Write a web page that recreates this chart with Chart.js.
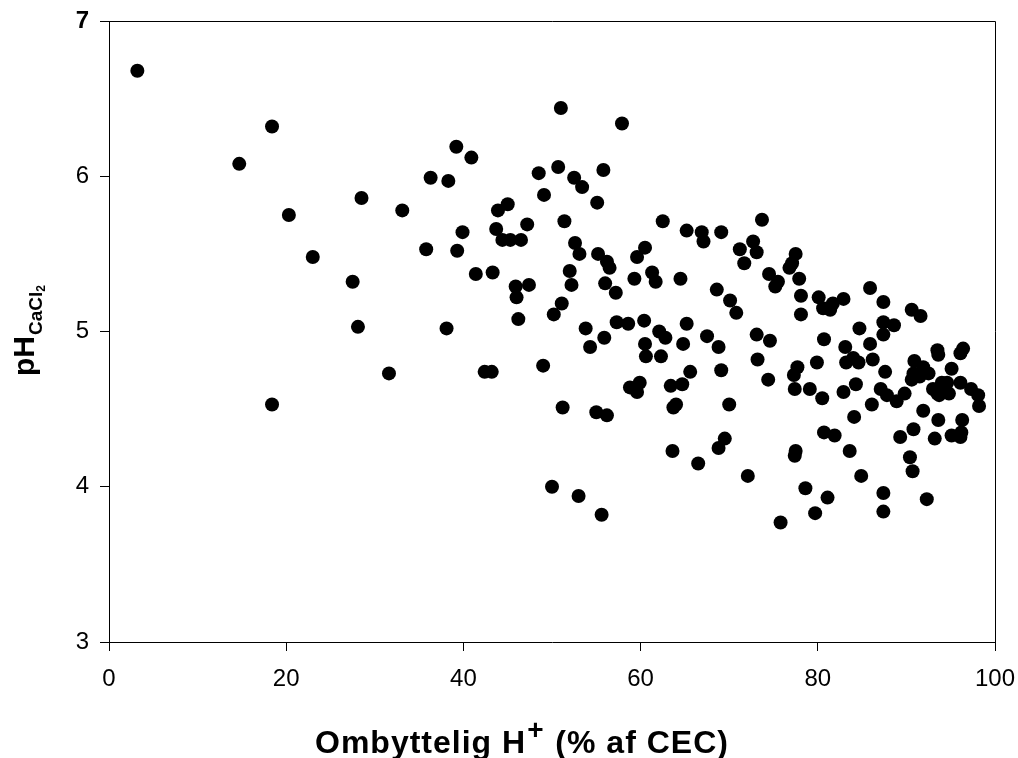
<!DOCTYPE html>
<html>
<head>
<meta charset="utf-8">
<script src="https://cdn.jsdelivr.net/npm/chart.js@4/dist/chart.umd.min.js"></script>
<style>
html,body{margin:0;padding:0;background:#fff;}
#wrap{width:1018px;height:758px;}
</style>
</head>
<body>
<div id="wrap"><canvas id="c" width="1018" height="758"></canvas></div>
<script>
// Exchangeable H+ (% of CEC)
const hPercent = [
 3.2,18.4,14.7,28.5,20.3,23.0,27.5,28.1,31.6,18.4,
 51.0,57.9,39.2,40.9,36.3,38.3,48.5,50.7,55.8,52.5,53.4,49.1,55.1,33.1,45.0,43.9,51.4,62.5,65.2,43.7,
 47.2,39.9,44.4,45.3,46.5,35.8,39.3,52.6,53.1,55.2,56.2,56.5,60.5,59.6,41.4,43.3,52.0,52.2,45.9,47.4,
 46.0,56.0,57.2,59.3,61.3,61.7,64.5,51.1,50.2,46.2,38.1,53.8,57.3,58.6,60.4,65.2,55.9,62.1,62.8,
 54.3,60.5,64.8,60.6,62.3,42.4,43.2,49.0,65.6,58.8,59.9,59.6,63.4,64.7,63.7,64.0,51.2,55.0,56.2,63.6,66.5,50.0,53.0,55.6,
 73.7,66.9,67.1,69.1,71.2,72.7,73.1,71.7,77.5,77.1,76.8,74.5,75.5,75.2,77.9,68.6,70.1,70.8,78.1,78.1,
 80.1,80.6,81.4,81.7,82.9,85.9,87.4,90.6,91.6,84.7,87.4,88.6,87.4,67.5,73.1,74.6,80.7,
 68.8,83.1,85.9,69.1,73.2,74.4,70.0,69.5,68.8,72.1,75.8,77.7,77.3,77.4,77.5,77.4,79.9,79.1,80.5,78.6,81.1,79.7,
 80.7,81.9,83.6,84.9,82.9,84.3,83.2,84.0,84.6,86.2,86.1,84.1,87.6,87.1,87.8,88.9,89.8,87.4,87.4,89.3,90.8,90.4,90.7,92.3,
 90.9,91.9,90.8,90.6,91.5,92.5,91.9,93.5,93.6,95.1,93.6,93.2,93.0,93.5,94.0,94.6,94.8,94.3,93.7,96.1,96.4,96.1,97.3,98.1,98.2,96.3,95.1,96.1,96.2
];
// pH (CaCl2)
const phCaCl2 = [
 6.68,6.32,6.08,5.86,5.75,5.48,5.32,5.03,4.73,4.53,
 6.44,6.34,6.19,6.12,5.99,5.97,6.02,6.06,6.04,5.99,5.93,5.88,5.83,5.78,5.82,5.78,5.71,5.71,5.65,5.66,
 5.69,5.64,5.59,5.59,5.59,5.53,5.52,5.57,5.50,5.50,5.45,5.41,5.54,5.48,5.37,5.38,5.39,5.30,5.29,5.30,
 5.22,5.31,5.25,5.34,5.38,5.32,5.34,5.18,5.11,5.08,5.02,5.02,5.06,5.05,5.07,5.05,4.96,5.00,4.96,
 4.90,4.92,4.92,4.84,4.84,4.74,4.74,4.78,4.74,4.64,4.67,4.61,4.65,4.66,4.51,4.53,4.51,4.48,4.46,4.23,4.15,4.00,3.94,3.82,
 5.72,5.64,5.58,5.64,5.53,5.58,5.51,5.44,5.50,5.44,5.41,5.37,5.32,5.29,5.34,5.27,5.20,5.12,5.23,5.11,
 5.22,5.15,5.14,5.18,5.21,5.28,5.19,5.14,5.10,5.02,5.06,5.04,4.98,4.97,4.98,4.94,4.95,
 4.90,4.90,4.92,4.75,4.82,4.69,4.53,4.31,4.25,4.07,3.77,4.77,4.72,4.63,4.23,4.20,4.80,4.63,4.57,3.99,3.93,3.83,
 4.35,4.33,4.23,4.07,4.61,4.66,4.80,4.83,4.80,4.82,4.53,4.45,4.74,4.63,4.59,4.55,4.60,3.96,3.84,4.32,4.37,4.19,4.10,3.92,
 4.81,4.77,4.73,4.69,4.71,4.73,4.49,4.88,4.85,4.76,4.43,4.31,4.63,4.60,4.67,4.67,4.60,4.64,4.59,4.67,4.89,4.86,4.63,4.59,4.52,4.43,4.33,4.32,4.35
];
const xTicks = [0,20,40,60,80,100];
const yTicks = [3,4,5,6,7];

const points = hPercent.map((x,i)=>({x:x,y:phCaCl2[i]}));
const FONT = "'Liberation Sans', Arial, Helvetica, sans-serif";

const framePlugin = {
  id:'frame',
  afterDatasetsDraw(chart){
    const {ctx, chartArea:a} = chart;
    ctx.save();
    ctx.strokeStyle = '#000';
    ctx.lineWidth = 1;
    ctx.beginPath();
    ctx.moveTo(a.left, a.top+0.5);
    ctx.lineTo(a.right+0.5, a.top+0.5);
    ctx.lineTo(a.right+0.5, a.bottom);
    ctx.stroke();
    ctx.restore();
  },
  afterDraw(chart){
    const ctx = chart.ctx;
    ctx.save();
    ctx.fillStyle = '#000';
    ctx.textBaseline = 'alphabetic';
    ctx.textAlign = 'left';
    // X title with superscript
    let x = 315, y = 753;
    try { ctx.letterSpacing = '1px'; } catch(e) {}
    ctx.font = "bold 32px " + FONT;
    const p1 = 'Ombyttelig H';
    ctx.fillText(p1, x, y); x += ctx.measureText(p1).width + 1;
    ctx.font = "bold 28px " + FONT;
    ctx.fillText('+', x, y - 14); x += ctx.measureText('+').width + 1;
    ctx.font = "bold 32px " + FONT;
    ctx.fillText(' (% af CEC)', x, y);
    try { ctx.letterSpacing = '0px'; } catch(e) {}
    // Y title rotated with subscripts
    ctx.translate(34, 376);
    ctx.rotate(-Math.PI/2);
    let t = 0;
    ctx.font = "bold 30px " + FONT;
    ctx.fillText('pH', t, 0); t += ctx.measureText('pH').width + 1;
    ctx.font = "bold 19px " + FONT;
    ctx.fillText('CaCl', t, 8); t += ctx.measureText('CaCl').width;
    ctx.font = "bold 12px " + FONT;
    ctx.fillText('2', t, 11);
    ctx.restore();
  }
};

new Chart(document.getElementById('c'), {
  type:'scatter',
  data:{datasets:[{
    data:points,
    pointRadius:7,
    pointHoverRadius:7,
    pointBackgroundColor:'#000',
    pointBorderWidth:0,
    borderColor:'#000'
  }]},
  options:{
    responsive:false,
    animation:false,
    events:[],
    layout:{padding:{left:0,top:21,right:23,bottom:0}},
    plugins:{legend:{display:false},tooltip:{enabled:false},title:{display:false}},
    scales:{
      x:{
        type:'linear', min:0, max:100,
        afterFit(s){ s.height = 116; s.paddingLeft = 0; s.paddingRight = 0; },
        afterBuildTicks(s){ s.ticks = xTicks.map(v=>({value:v})); },
        grid:{display:true, drawOnChartArea:false, drawTicks:true, tickLength:9, color:'#000', lineWidth:1},
        border:{display:true, color:'#000', width:1},
        ticks:{color:'#000', padding:14, maxRotation:0, font:{family:FONT, size:24}}
      },
      y:{
        type:'linear', min:3, max:7,
        afterFit(s){ s.width = 109; s.paddingTop = 0; s.paddingBottom = 0; },
        afterBuildTicks(s){ s.ticks = yTicks.map(v=>({value:v})); },
        grid:{display:true, drawOnChartArea:false, drawTicks:true, tickLength:9, color:'#000', lineWidth:1},
        border:{display:true, color:'#000', width:1},
        ticks:{color:'#000', padding:11,
          font:(c)=> (c.tick && c.tick.value===7) ? {family:FONT, size:24, weight:'bold'} : {family:FONT, size:24}}
      }
    }
  },
  plugins:[framePlugin]
});
</script>
</body>
</html>
